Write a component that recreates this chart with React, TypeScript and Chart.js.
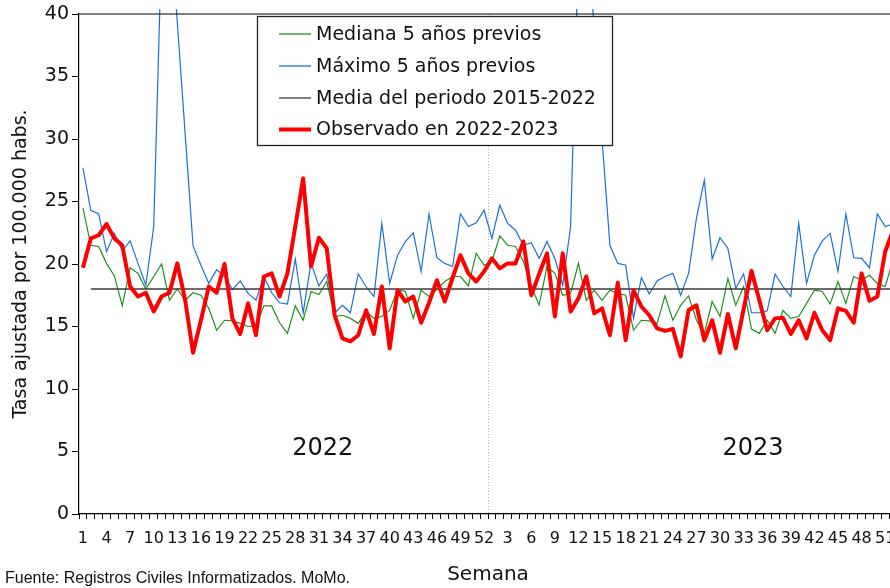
import { useEffect, useRef } from 'react';
import { Chart, registerables } from 'chart.js';

Chart.register(...registerables);

// Weeks: 2022 (1..52) followed by 2023 (1..52)
const weeks2022: string[] = Array.from({ length: 52 }, (_, i) => String(i + 1));
const weeks2023: string[] = Array.from({ length: 52 }, (_, i) => String(i + 1));
const categories: string[] = [...weeks2022, ...weeks2023];

const yTicks = { min: 0, max: 40, step: 5 };

const seriesNames = [
  'Mediana 5 años previos',
  'Máximo 5 años previos',
  'Media del periodo 2015-2022',
  'Observado en 2022-2023',
];

const observado: number[] = [
  19.7, 22.05, 22.3, 23.2, 22.05, 21.5, 18.2, 17.4, 17.7, 16.2,
  17.4, 17.7, 20.05, 17.1, 12.9, 15.5, 18.2, 17.7, 20.0, 15.65,
  14.4, 16.85, 14.3, 19.0, 19.25, 17.4, 19.25, 23.0, 26.85, 19.8,
  22.1, 21.25, 15.9, 14.05, 13.8, 14.3, 16.3, 14.4, 18.2, 13.25,
  17.9, 17.0, 17.4, 15.3, 16.9, 18.7, 17.0, 18.9, 20.7, 19.25,
  18.6, 19.4, 20.45, 19.65, 20.05, 20.05, 21.8, 17.5, 19.2, 20.85,
  15.8, 20.85, 16.2, 17.25, 19.0, 16.05, 16.45, 14.3, 18.5, 13.9,
  17.9, 16.6, 15.9, 14.85, 14.65, 14.8, 12.6, 16.3, 16.7, 13.9,
  15.5, 12.9, 16.0, 13.25, 16.4, 19.45, 17.1, 14.7, 15.65, 15.7,
  14.4, 15.5, 14.05, 16.1, 14.7, 13.9, 16.45, 16.25, 15.3, 19.25,
  17.05, 17.4, 21.0, 22.7,
];

const mediana: number[] = [
  24.5, 21.5, 21.4, 20.05, 19.05, 16.65, 19.7, 19.25, 18.0, 19.0,
  20.0, 17.1, 18.0, 17.1, 17.7, 17.5, 16.45, 14.7, 15.5, 15.45,
  15.25, 15.0, 15.05, 16.65, 16.65, 15.3, 14.45, 16.65, 15.5, 17.8,
  17.55, 18.6, 15.8, 15.9, 15.65, 15.25, 16.2, 15.65, 15.8, 16.3,
  17.95, 17.8, 15.65, 17.9, 17.4, 17.95, 18.6, 19.0, 19.0, 18.25,
  20.85, 19.9, 20.2, 22.25, 21.5, 21.4, 20.2, 18.25, 16.7, 19.8,
  19.25, 17.5, 17.65, 20.05, 17.1, 17.9, 17.1, 17.9, 17.65, 17.5,
  14.7, 15.5, 15.45, 15.25, 17.45, 15.5, 16.7, 17.45, 15.5, 14.45,
  17.0, 15.8, 18.85, 16.7, 18.2, 14.8, 14.45, 15.5, 14.45, 16.3,
  15.65, 15.8, 16.85, 17.9, 17.8, 16.8, 18.6, 16.85, 19.0, 18.7,
  19.1, 18.45, 18.2, 20.3,
];

const maximo: number[] = [
  27.7, 24.3, 24.0, 21.0, 22.45, 21.05, 21.85, 20.05, 18.3, 23.0,
  45.5, 48.0, 39.3, 30.4, 21.45, 19.9, 18.45, 19.55, 19.0, 17.95,
  18.65, 17.65, 17.1, 19.0, 17.7, 16.9, 16.8, 20.4, 16.1, 20.1,
  18.25, 19.2, 16.1, 16.7, 16.1, 19.2, 18.2, 17.4, 23.25, 18.45,
  20.7, 21.8, 22.5, 19.4, 24.0, 20.5, 20.05, 19.8, 24.0, 23.0,
  23.3, 24.3, 22.05, 24.7, 23.25, 22.7, 21.5, 21.7, 20.45, 21.8,
  20.45, 18.3, 23.0, 45.0, 47.5, 38.9, 30.0, 21.5, 20.05, 19.9,
  15.65, 18.9, 17.6, 18.65, 19.0, 19.25, 17.5, 19.25, 23.65, 26.7,
  20.4, 22.1, 21.25, 18.05, 19.2, 16.1, 16.1, 16.25, 19.2, 18.2,
  17.4, 23.25, 18.45, 20.7, 21.85, 22.45, 19.4, 24.0, 20.5, 20.45,
  19.7, 24.0, 23.0, 23.2,
];

const mediaPeriodo = 18;
const mediaSerie: (number | null)[] = categories.map((_, i) => (i === 0 ? null : mediaPeriodo));

const yearLabels = ['2022', '2023'];
const yearLabelPos = [30.5, 85.2]; // category index positions
const yearLabelValue = 5.2;
const yearSplitIndex = 51.5; // between week 52 of 2022 and week 1 of 2023

const sourceText = 'Fuente: Registros Civiles Informatizados. MoMo.';

const COLORS = {
  green: '#1f8f1f',
  blue: '#1c6fd4',
  mean: '#3a3a3a',
  red: '#ff0000',
};

const FONT = 'DejaVu Sans';

const overlayPlugin = {
  id: 'overlay',
  beforeDatasetsDraw(chart: any) {
    const { ctx, chartArea, scales } = chart;
    const xs = scales.x;
    const x0 = xs.getPixelForValue(Math.floor(yearSplitIndex));
    const x1 = xs.getPixelForValue(Math.ceil(yearSplitIndex));
    const xv = Math.round((x0 + x1) / 2) + 0.5;
    ctx.save();
    ctx.strokeStyle = '#b0b0b0';
    ctx.lineWidth = 1;
    ctx.setLineDash([1, 2]);
    ctx.beginPath();
    ctx.moveTo(xv, chartArea.top);
    ctx.lineTo(xv, chartArea.bottom);
    ctx.stroke();
    ctx.restore();
  },
  afterDraw(chart: any) {
    const { ctx, chartArea, scales } = chart;
    const xs = scales.x;
    const ys = scales.y;
    ctx.save();
    // top border of plot area
    ctx.strokeStyle = '#000';
    ctx.lineWidth = 1.2;
    ctx.beginPath();
    ctx.moveTo(chartArea.left, chartArea.top);
    ctx.lineTo(chartArea.right, chartArea.top);
    ctx.stroke();

    // year labels
    const pitch = xs.getPixelForValue(1) - xs.getPixelForValue(0);
    ctx.fillStyle = '#111';
    ctx.font = `24px "${FONT}"`;
    ctx.textAlign = 'center';
    ctx.textBaseline = 'middle';
    yearLabels.forEach((t, i) => {
      const px = xs.getPixelForValue(0) + yearLabelPos[i] * pitch;
      ctx.fillText(t, px, ys.getPixelForValue(yearLabelValue));
    });

    // legend box
    const bx = 257.5, by = 16.5, bw = 355, bh = 129;
    ctx.fillStyle = '#fff';
    ctx.fillRect(bx, by, bw, bh);
    ctx.strokeStyle = '#222';
    ctx.lineWidth = 1.3;
    ctx.strokeRect(bx, by, bw, bh);
    const rows = [34, 66, 98, 129.5];
    const cols = [COLORS.green, COLORS.blue, COLORS.mean, COLORS.red];
    const widths = [1.3, 1.3, 1.3, 4];
    ctx.font = `19px "${FONT}"`;
    ctx.textAlign = 'left';
    ctx.textBaseline = 'middle';
    seriesNames.forEach((name, i) => {
      ctx.strokeStyle = cols[i];
      ctx.lineWidth = widths[i];
      ctx.beginPath();
      ctx.moveTo(279, rows[i]);
      ctx.lineTo(311, rows[i]);
      ctx.stroke();
      ctx.fillStyle = '#111';
      ctx.fillText(name, 316, rows[i] + 1);
    });

    // source
    ctx.font = '16px "Liberation Sans"';
    ctx.textBaseline = 'alphabetic';
    ctx.fillStyle = '#111';
    ctx.fillText(sourceText, 5, 583);
    ctx.restore();
  },
};

export default function App() {
  const canvasRef = useRef<HTMLCanvasElement | null>(null);

  useEffect(() => {
    const canvas = canvasRef.current;
    if (!canvas) return;
    const chart = new Chart(canvas, {
      type: 'line',
      data: {
        labels: categories,
        datasets: [
          {
            label: seriesNames[3],
            data: observado,
            borderColor: COLORS.red,
            borderWidth: 4,
            order: 0,
            borderJoinStyle: 'round',
          },
          {
            label: seriesNames[2],
            data: mediaSerie,
            borderColor: COLORS.mean,
            borderWidth: 1.3,
            order: 1,
          },
          {
            label: seriesNames[0],
            data: mediana,
            borderColor: COLORS.green,
            borderWidth: 1.2,
            order: 2,
          },
          {
            label: seriesNames[1],
            data: maximo,
            borderColor: COLORS.blue,
            borderWidth: 1.2,
            order: 3,
            clip: { left: 0, top: 5, right: 0, bottom: 0 } as any,
          },
        ],
      },
      options: {
        responsive: false,
        animation: false,
        devicePixelRatio: 1,
        layout: { padding: { top: 14, left: 0, right: 0, bottom: 0 } },
        elements: { point: { radius: 0 }, line: { tension: 0, fill: false } },
        plugins: { legend: { display: false }, tooltip: { enabled: false } },
        scales: {
          x: {
            type: 'category',
            offset: true,
            grid: {
              offset: true,
              drawOnChartArea: false,
              drawTicks: true,
              tickLength: 5,
              color: '#000',
              lineWidth: 1,
            },
            border: { color: '#000', width: 1.2 },
            ticks: {
              autoSkip: false,
              maxRotation: 0,
              minRotation: 0,
              padding: 10,
              color: '#111',
              font: { family: FONT, size: 16 },
              callback: function (this: any, value: any, index: number) {
                return index % 3 === 0 ? this.getLabelForValue(value) : '';
              },
            },
            title: {
              display: true,
              text: 'Semana',
              color: '#111',
              font: { family: FONT, size: 20 },
              padding: { top: 0, bottom: 1 },
            },
            afterFit: (s: any) => {
              s.height = 74;
              s.paddingLeft = 0;
              s.paddingRight = 0;
            },
          },
          y: {
            min: yTicks.min,
            max: yTicks.max,
            grid: {
              drawOnChartArea: false,
              drawTicks: true,
              tickLength: 7,
              color: '#000',
            },
            border: { color: '#000', width: 1.2 },
            ticks: {
              stepSize: yTicks.step,
              padding: 3,
              color: '#111',
              font: { family: FONT, size: 19 },
            },
            title: {
              display: true,
              text: 'Tasa ajustada por 100.000 habs.',
              color: '#111',
              font: { family: FONT, size: 19 },
              padding: { top: 10, bottom: 0 },
            },
            afterFit: (s: any) => {
              s.width = 79;
              s.paddingTop = 0;
              s.paddingBottom = 0;
            },
          },
        },
      },
      plugins: [overlayPlugin],
    });
    return () => chart.destroy();
  }, []);

  return (
    <div
      style={{
        position: 'fixed',
        left: 0,
        top: 0,
        width: 890,
        height: 588,
        overflow: 'hidden',
        background: '#fff',
      }}
    >
      <canvas ref={canvasRef} width={897} height={588} style={{ display: 'block' }} />
    </div>
  );
}
